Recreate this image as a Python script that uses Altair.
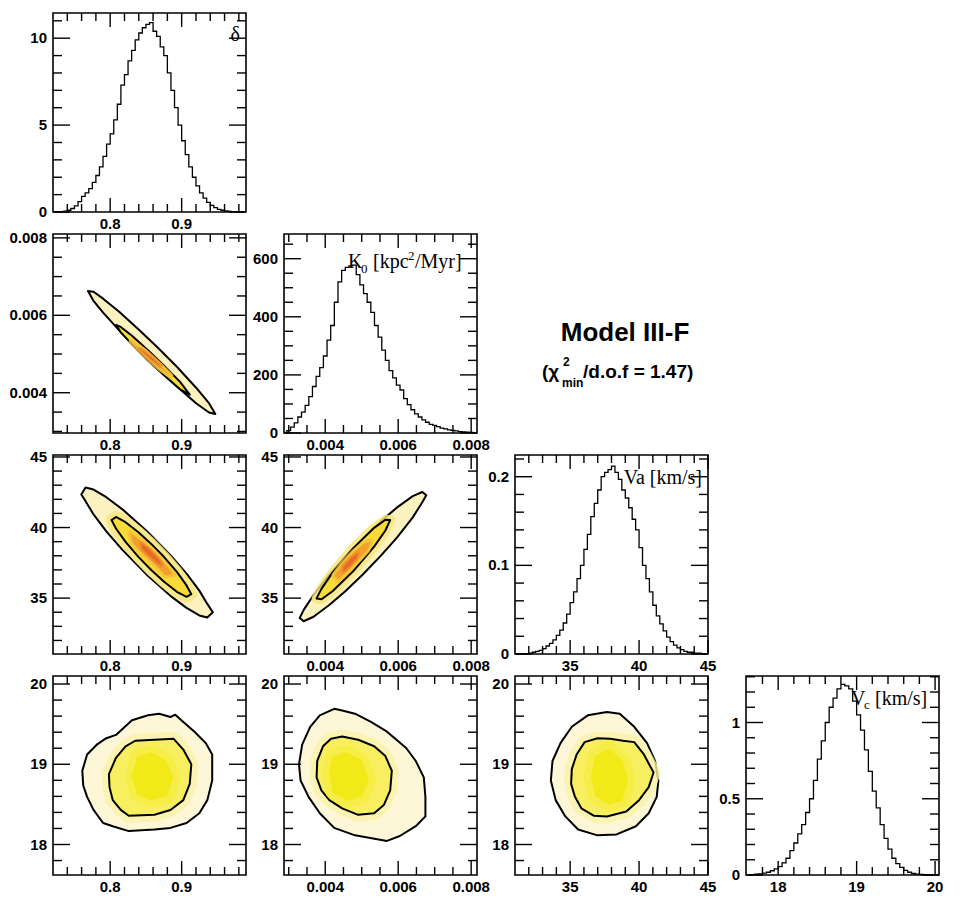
import altair as alt
import pandas as pd

# ------------------------------------------------------------------ data
# 1-D marginal histograms (bin start, bin width, bin contents)
DELTA_LO, DELTA_STEP = 0.72, 0.005
delta_counts = [0, 0, 0.02, 0.05, 0.1, 0.2, 0.35, 0.6, 0.9, 1.1,
                1.35, 1.7, 2.1, 2.6, 3.2, 3.9, 4.5, 5.3, 6.2, 7.3,
                7.9, 8.7, 9.3, 9.9, 10.3, 10.6, 10.8, 10.9, 10.4, 10.1,
                9.5, 9.0, 8.0, 7.0, 6.0, 5.0, 4.1, 3.3, 2.6, 2.0,
                1.5, 1.1, 0.8, 0.55, 0.38, 0.25, 0.15, 0.1, 0.06, 0.04,
                0.02, 0.01, 0, 0]

K0_LO, K0_STEP = 0.00285, 0.0001
k0_counts = [2, 8, 20, 35, 55, 72, 95, 125, 160, 195,
             225, 265, 320, 370, 450, 520, 560, 570, 575, 578,
             545, 510, 480, 450, 415, 370, 330, 285, 250, 215,
             190, 165, 148, 118, 98, 80, 66, 55, 45, 37,
             30, 26, 22, 17, 14, 11, 9, 7, 5, 4,
             3, 2, 1]

VA_LO, VA_STEP = 31.0, 0.25
va_counts = [0, 0, 0, 0.0005, 0.001, 0.002, 0.003, 0.004, 0.006, 0.009,
             0.012, 0.016, 0.021, 0.027, 0.035, 0.045, 0.058, 0.07, 0.085, 0.1,
             0.118, 0.135, 0.155, 0.17, 0.185, 0.2, 0.205, 0.208, 0.212, 0.205,
             0.197, 0.185, 0.176, 0.165, 0.152, 0.14, 0.12, 0.1, 0.085, 0.07,
             0.055, 0.043, 0.034, 0.026, 0.019, 0.014, 0.01, 0.007, 0.005, 0.003,
             0.002, 0.002, 0.001, 0.001, 0.0005, 0]

VC_LO, VC_STEP = 17.6, 0.05
vc_counts = [0, 0.002, 0.005, 0.008, 0.012, 0.018, 0.028, 0.04, 0.055, 0.08,
             0.11, 0.16, 0.21, 0.27, 0.33, 0.41, 0.5, 0.62, 0.76, 0.88,
             1.0, 1.1, 1.16, 1.22, 1.25, 1.24, 1.22, 1.14, 1.05, 0.95,
             0.82, 0.68, 0.55, 0.44, 0.33, 0.24, 0.17, 0.11, 0.075, 0.05,
             0.03, 0.018, 0.01, 0.006, 0.004, 0.002, 0.001, 0]

# 2-D contour outlines (68% inner / 95% outer) and colour-density cores
A_outer_x = [0.7690, 0.7767, 0.7901, 0.8126, 0.8395, 0.8664, 0.8933, 0.9202, 0.9382, 0.9471,
             0.9382, 0.9202, 0.8933, 0.8664, 0.8395, 0.8126, 0.7901, 0.7767]
A_outer_y = [0.00663, 0.00661, 0.00643, 0.00609, 0.00564, 0.00517, 0.00467, 0.00413, 0.00373, 0.00345,
             0.00349, 0.00373, 0.00416, 0.00461, 0.00510, 0.00561, 0.00607, 0.00637]
A_inner_x = [0.8081, 0.8148, 0.8305, 0.8529, 0.8754, 0.8978, 0.9113, 0.8978, 0.8754, 0.8529, 0.8305, 0.8148]
A_inner_y = [0.00575, 0.00570, 0.00547, 0.00510, 0.00470, 0.00428, 0.00395, 0.00409, 0.00445, 0.00483, 0.00525, 0.00556]
A_core_x = [0.830, 0.848, 0.866, 0.884, 0.868, 0.850]
A_core_y = [0.00532, 0.00507, 0.00477, 0.00445, 0.00466, 0.00496]
A_peak_x = [0.842, 0.857, 0.870, 0.858]
A_peak_y = [0.00513, 0.00492, 0.00470, 0.00486]

B_outer_x = [0.7596, 0.7655, 0.7767, 0.7946, 0.8171, 0.8507, 0.8843, 0.9068, 0.9247, 0.9359,
             0.9436, 0.9359, 0.9247, 0.9068, 0.8843, 0.8507, 0.8171, 0.7946, 0.7767, 0.7655]
B_outer_y = [42.34, 42.84, 42.69, 42.15, 41.29, 39.78, 38.04, 36.73, 35.53, 34.59,
             34.00, 33.62, 33.77, 34.31, 35.16, 36.68, 38.42, 39.73, 40.93, 41.87]
B_inner_x = [0.8018, 0.8081, 0.8215, 0.8395, 0.8574, 0.8754, 0.8933, 0.9068, 0.9135,
             0.9068, 0.8933, 0.8754, 0.8574, 0.8395, 0.8215, 0.8081]
B_inner_y = [40.53, 40.75, 40.38, 39.67, 38.84, 37.91, 36.86, 35.90, 35.28,
             35.09, 35.45, 36.16, 36.99, 37.92, 38.98, 39.93]
B_core_x = [0.828, 0.845, 0.862, 0.880, 0.888, 0.878, 0.862, 0.845, 0.832]
B_core_y = [39.6, 39.0, 38.2, 37.2, 36.7, 36.6, 37.4, 38.2, 38.9]
B_peak_x = [0.843, 0.856, 0.870, 0.872, 0.857, 0.845]
B_peak_y = [38.9, 38.4, 37.6, 37.3, 37.9, 38.5]

C_outer_x = [0.00330, 0.00341, 0.00368, 0.00411, 0.00455, 0.00503, 0.00552, 0.00596, 0.00640, 0.00666,
             0.00677, 0.00666, 0.00640, 0.00596, 0.00552, 0.00503, 0.00455, 0.00411, 0.00368, 0.00341]
C_outer_y = [33.59, 34.17, 35.22, 36.65, 37.94, 39.21, 40.43, 41.41, 42.23, 42.52,
             42.29, 41.79, 40.72, 39.27, 37.99, 36.67, 35.49, 34.51, 33.68, 33.36]
C_inner_x = [0.00376, 0.00390, 0.00420, 0.00477, 0.00534, 0.00565, 0.00578, 0.00565, 0.00534, 0.00477, 0.00420, 0.00390]
C_inner_y = [34.98, 35.67, 36.81, 38.54, 39.98, 40.55, 40.53, 39.79, 38.65, 36.92, 35.49, 34.92]
C_core_x = [0.00425, 0.00450, 0.00480, 0.00510, 0.00525, 0.00515, 0.00490, 0.00460, 0.00435]
C_core_y = [36.6, 37.5, 38.3, 38.9, 39.0, 38.4, 37.7, 36.9, 36.3]
C_peak_x = [0.00450, 0.00470, 0.00490, 0.00485, 0.00465, 0.00450]
C_peak_y = [37.2, 37.8, 38.2, 37.8, 37.2, 36.9]

D_outer_x = [0.8081, 0.8305, 0.8529, 0.8686, 0.8843, 0.8911, 0.9023, 0.9180, 0.9337, 0.9427,
             0.9427, 0.9359, 0.9247, 0.9068, 0.8843, 0.8619, 0.8260, 0.8036, 0.7901, 0.7767,
             0.7677, 0.7623, 0.7610, 0.7677, 0.7812, 0.7946]
D_outer_y = [19.366, 19.549, 19.610, 19.630, 19.589, 19.618, 19.528, 19.406, 19.264, 19.122,
             18.797, 18.553, 18.390, 18.268, 18.207, 18.187, 18.167, 18.228, 18.268, 18.431,
             18.594, 18.736, 18.919, 19.122, 19.244, 19.325]
D_inner_x = [0.8350, 0.8888, 0.9023, 0.9135, 0.9113, 0.9023, 0.8843, 0.8619, 0.8260, 0.8148,
             0.8036, 0.7991, 0.7982, 0.8081, 0.8215]
D_inner_y = [19.293, 19.317, 19.183, 19.000, 18.756, 18.553, 18.431, 18.370, 18.358, 18.431,
             18.553, 18.715, 18.878, 19.081, 19.224]
D_core_x = [0.838, 0.858, 0.878, 0.888, 0.880, 0.858, 0.838, 0.830]
D_core_y = [19.10, 19.15, 19.05, 18.85, 18.60, 18.55, 18.62, 18.85]

E_outer_x = [0.004246, 0.004465, 0.004816, 0.005254, 0.005693, 0.006219, 0.006482, 0.006702, 0.006746, 0.006746,
             0.006482, 0.006044, 0.005693, 0.004816, 0.004246, 0.003851, 0.003544, 0.003325, 0.003281, 0.003368,
             0.003588, 0.003851]
E_outer_y = [19.691, 19.671, 19.630, 19.528, 19.406, 19.203, 19.041, 18.837, 18.594, 18.350,
             18.228, 18.106, 18.045, 18.114, 18.207, 18.390, 18.594, 18.797, 19.000, 19.244,
             19.467, 19.610]
E_inner_x = [0.004465, 0.004903, 0.005342, 0.005649, 0.005825, 0.005781, 0.005605, 0.005342, 0.004903, 0.004465,
             0.004114, 0.003895, 0.003763, 0.003781, 0.003939, 0.004158]
E_inner_y = [19.345, 19.305, 19.224, 19.102, 18.919, 18.675, 18.492, 18.390, 18.370, 18.451,
             18.553, 18.675, 18.837, 19.041, 19.224, 19.317]
E_core_x = [0.0042, 0.0046, 0.0050, 0.0052, 0.0050, 0.0046, 0.0042, 0.0041]
E_core_y = [19.10, 19.15, 19.05, 18.80, 18.60, 18.55, 18.65, 18.90]

F_outer_x = [36.28, 37.67, 38.60, 39.65, 40.58, 41.16, 41.40, 41.28, 40.70, 39.77,
             38.37, 36.98, 35.58, 34.65, 33.95, 33.60, 33.72, 34.30, 35.12]
F_outer_y = [19.610, 19.650, 19.630, 19.467, 19.264, 19.041, 18.797, 18.594, 18.390, 18.228,
             18.126, 18.114, 18.187, 18.350, 18.553, 18.797, 19.041, 19.264, 19.467]
F_inner_x = [36.05, 36.98, 37.91, 38.84, 39.65, 40.35, 41.05, 40.70, 40.00, 39.07,
             37.67, 36.74, 35.81, 35.35, 35.07, 35.12, 35.47]
F_inner_y = [19.276, 19.325, 19.317, 19.293, 19.276, 19.122, 18.898, 18.715, 18.553, 18.411,
             18.350, 18.358, 18.451, 18.594, 18.756, 18.939, 19.122]
F_core_x = [36.8, 37.8, 38.8, 39.2, 38.8, 37.8, 36.8, 36.5]
F_core_y = [19.10, 19.20, 19.05, 18.80, 18.55, 18.50, 18.60, 18.85]

# axis domains, tick values and tick labels
delta_dom = [0.72, 0.99]
k0x_dom, k0y_dom = [0.00287, 0.00816], [0.00296, 0.0081]
vax_dom, vay_dom = [31.0, 45.0], [31.04, 45.14]
vcx_dom, vcy_dom = [17.59, 20.05], [17.62, 20.1]
h_delta_dom, h_k0_dom, h_va_dom, h_vc_dom = [0, 11.45], [0, 685], [0, 0.2245], [0, 1.305]

delta_ticks = ([0.8, 0.9], [0.74, 0.76, 0.78, 0.82, 0.84, 0.86, 0.88, 0.92, 0.94, 0.96, 0.98], ["0.8", "0.9"])
k0_ticks = ([0.004, 0.006, 0.008], [0.003, 0.0035, 0.0045, 0.005, 0.0055, 0.0065, 0.007, 0.0075],
            ["0.004", "0.006", "0.008"])
va_ticks = ([35, 40, 45], [32, 33, 34, 36, 37, 38, 39, 41, 42, 43, 44], ["35", "40", "45"])
vc_ticks = ([18, 19, 20], [17.8, 18.2, 18.4, 18.6, 18.8, 19.2, 19.4, 19.6, 19.8], ["18", "19", "20"])
h_delta_ticks = ([0, 5, 10], [1, 2, 3, 4, 6, 7, 8, 9, 11], ["0", "5", "10"])
h_k0_ticks = ([0, 200, 400, 600], [50, 100, 150, 250, 300, 350, 450, 500, 550, 650], ["0", "200", "400", "600"])
h_va_ticks = ([0, 0.1, 0.2], [0.02, 0.04, 0.06, 0.08, 0.12, 0.14, 0.16, 0.18, 0.22], ["0", "0.1", "0.2"])
h_vc_ticks = ([0, 0.5, 1], [0.1, 0.2, 0.3, 0.4, 0.6, 0.7, 0.8, 0.9, 1.1, 1.2, 1.3], ["0", "0.5", "1"])

TITLE = "Model III-F"
SUB_PARTS = ["(\u03c7", "2", "min", "/d.o.f = 1.47)"]
LBL_DELTA = "\u03b4"
LBL_K0 = ["K", "0", "[kpc", "2", "/Myr]"]
LBL_VA = "Va [km/s]"
LBL_VC = ["V", "c", "[km/s]"]

# ------------------------------------------------------------------ style
FONT = "Liberation Sans"
SERIF = "Liberation Serif"
W, H = 193, 199
XMAJ, XMIN, YMAJ, YMIN = 14, 8, 17, 9   # inward tick lengths in px
TICK_W = 1.4
LBL_SIZE = 15


def scl(d):
    return alt.Scale(domain=d, nice=False, zero=False)


class Frame:
    """Shared x/y scales of one panel."""

    def __init__(self, xd, yd, xt, yt):
        self.xd, self.yd, self.xt, self.yt = xd, yd, xt, yt

    def X(self, f):
        return alt.X(f, scale=scl(self.xd), axis=None)

    def Y(self, f):
        return alt.Y(f, scale=scl(self.yd), axis=None)


def tick_layers(fr):
    # inward ticks on all four sides (ROOT style), drawn as short two-point
    # line segments; the tick length in px is converted to data units
    (x0, x1), (y0, y1) = fr.xd, fr.yd
    ux, uy = (x1 - x0) / W, (y1 - y0) / H
    rows = []
    n = 0
    for vals, size in ((fr.xt[0], XMAJ), (fr.xt[1], XMIN)):
        for v in vals:
            rows += [(n, 0, v, y0), (n, 1, v, y0 + size * uy)]
            rows += [(n + 1, 0, v, y1), (n + 1, 1, v, y1 - size * uy)]
            n += 2
    for vals, size in ((fr.yt[0], YMAJ), (fr.yt[1], YMIN)):
        for v in vals:
            rows += [(n, 0, x0, v), (n, 1, x0 + size * ux, v)]
            rows += [(n + 1, 0, x1, v), (n + 1, 1, x1 - size * ux, v)]
            n += 2
    td = pd.DataFrame(rows, columns=["tid", "k", "tx", "ty"])
    layers = [alt.Chart(td).mark_line(color="black", strokeWidth=TICK_W, strokeCap="butt").encode(
        x=fr.X("tx:Q"), y=fr.Y("ty:Q"), detail="tid:N", order="k:Q")]
    # tick labels, placed through the panel scales
    txt = dict(font=FONT, fontSize=LBL_SIZE, fontWeight="bold", color="black")
    dx = pd.DataFrame({"v": fr.xt[0], "lab": fr.xt[2]})
    layers.append(alt.Chart(dx).mark_text(align="center", baseline="top", **txt).encode(
        x=fr.X("v:Q"), y=alt.value(H + 5), text="lab:N"))
    dy = pd.DataFrame({"v": fr.yt[0], "lab": fr.yt[2]})
    layers.append(alt.Chart(dy).mark_text(align="right", baseline="middle", **txt).encode(
        y=fr.Y("v:Q"), x=alt.value(-6), text="lab:N"))
    return layers


def text_layer(txt, x, y, size, font=SERIF, weight="normal", align="left"):
    return alt.Chart(pd.DataFrame({"t": [txt]})).mark_text(
        font=font, fontSize=size, fontWeight=weight, align=align, baseline="alphabetic",
        color="black").encode(text="t:N", x=alt.value(x), y=alt.value(y))


def hist_panel(lo, step, vals, fr, labels):
    df = pd.DataFrame({"x": [lo + (i + 0.5) * step for i in range(len(vals))], "y": vals})
    line = alt.Chart(df).mark_line(interpolate="step", color="black", strokeWidth=1.3).encode(
        x=fr.X("x:Q"), y=fr.Y("y:Q"))
    return alt.layer(line, *tick_layers(fr), *labels).properties(width=W, height=H)


def poly(xs, ys, fr, fill=None, stroke=None, sw=0, opacity=1.0):
    df = pd.DataFrame({"x": xs, "y": ys, "i": list(range(len(xs)))})
    mk = dict(interpolate="linear-closed", strokeJoin="round")
    if fill:
        mk.update(fill=fill, fillOpacity=opacity)
    else:
        mk.update(fillOpacity=0)
    if stroke:
        mk.update(stroke=stroke, strokeWidth=sw, strokeOpacity=opacity if not fill else 1)
    else:
        mk.update(strokeOpacity=0)
    return alt.Chart(df).mark_line(**mk).encode(x=fr.X("x:Q"), y=fr.Y("y:Q"), order="i:Q")


def contour_panel(polys, fr):
    layers = [poly(p[0], p[1], fr, **p[2]) for p in polys]
    return alt.layer(*layers, *tick_layers(fr)).properties(width=W, height=H)


def blank():
    return alt.Chart(pd.DataFrame({"v": [0]})).mark_point(opacity=0, size=1).encode(
        x=alt.value(W / 2), y=alt.value(H / 2)).properties(
        width=W, height=H, view=alt.ViewBackground(strokeOpacity=0))


def corr_polys(ox, oy, ix, iy, cx, cy, px, py, halo):
    out = [(ox, oy, dict(fill="#fbf2c0", stroke="black", sw=2))]
    if halo:
        out.append((ix, iy, dict(stroke="#f8e57e", sw=halo, opacity=0.8)))
    out += [
        (ix, iy, dict(fill="#f7db38", stroke="black", sw=2)),
        (cx, cy, dict(stroke="#f4c03a", sw=6, opacity=0.8)),
        (cx, cy, dict(fill="#f1a02c")),
        (px, py, dict(stroke="#ee8a2a", sw=4, opacity=0.8)),
        (px, py, dict(fill="#e8682a")),
    ]
    return out


def round_polys(ox, oy, ix, iy, cx, cy):
    return [
        (ox, oy, dict(fill="#fdf7d8", stroke="black", sw=2)),
        (ix, iy, dict(stroke="#faf1a8", sw=14, opacity=0.8)),
        (ix, iy, dict(fill="#f7ee60", stroke="black", sw=2)),
        (cx, cy, dict(stroke="#f5ec40", sw=14, opacity=0.8)),
        (cx, cy, dict(fill="#f2ea18")),
    ]


# ------------------------------------------------------------------ panels
p_delta = hist_panel(DELTA_LO, DELTA_STEP, delta_counts,
                     Frame(delta_dom, h_delta_dom, delta_ticks, h_delta_ticks),
                     [text_layer(LBL_DELTA, W - 6, 28, 20, align="right")])
p_k0 = hist_panel(K0_LO, K0_STEP, k0_counts,
                  Frame(k0x_dom, h_k0_dom, k0_ticks, h_k0_ticks),
                  [text_layer(LBL_K0[0], W - 129, 34, 20),
                   text_layer(LBL_K0[1], W - 116, 39, 13),
                   text_layer(LBL_K0[2], W - 104, 34, 20),
                   text_layer(LBL_K0[3], W - 69, 26, 13),
                   text_layer(LBL_K0[4], W - 62, 34, 20)])
p_va = hist_panel(VA_LO, VA_STEP, va_counts,
                  Frame(vax_dom, h_va_dom, va_ticks, h_va_ticks),
                  [text_layer(LBL_VA, W - 6, 29, 20, align="right")])
p_vc = hist_panel(VC_LO, VC_STEP, vc_counts,
                  Frame(vcx_dom, h_vc_dom, vc_ticks, h_vc_ticks),
                  [text_layer(LBL_VC[0], W - 88, 29, 20),
                   text_layer(LBL_VC[1], W - 75, 33, 13),
                   text_layer(LBL_VC[2], W - 64, 29, 20)])

p_A = contour_panel(corr_polys(A_outer_x, A_outer_y, A_inner_x, A_inner_y, A_core_x, A_core_y, A_peak_x, A_peak_y, 0),
                    Frame(delta_dom, k0y_dom, delta_ticks, k0_ticks))
p_B = contour_panel(corr_polys(B_outer_x, B_outer_y, B_inner_x, B_inner_y, B_core_x, B_core_y, B_peak_x, B_peak_y, 12),
                    Frame(delta_dom, vay_dom, delta_ticks, va_ticks))
p_C = contour_panel(corr_polys(C_outer_x, C_outer_y, C_inner_x, C_inner_y, C_core_x, C_core_y, C_peak_x, C_peak_y, 10),
                    Frame(k0x_dom, vay_dom, k0_ticks, va_ticks))
p_D = contour_panel(round_polys(D_outer_x, D_outer_y, D_inner_x, D_inner_y, D_core_x, D_core_y),
                    Frame(delta_dom, vcy_dom, delta_ticks, vc_ticks))
p_E = contour_panel(round_polys(E_outer_x, E_outer_y, E_inner_x, E_inner_y, E_core_x, E_core_y),
                    Frame(k0x_dom, vcy_dom, k0_ticks, vc_ticks))
p_F = contour_panel(round_polys(F_outer_x, F_outer_y, F_inner_x, F_inner_y, F_core_x, F_core_y),
                    Frame(vax_dom, vcy_dom, va_ticks, vc_ticks))

p_title = alt.layer(
    text_layer(TITLE, 110, 107, 26, font=FONT, weight="bold", align="center"),
    text_layer(SUB_PARTS[0], 27, 144, 19, font=FONT, weight="bold"),
    text_layer(SUB_PARTS[1], 48, 132, 12, font=FONT, weight="bold"),
    text_layer(SUB_PARTS[2], 47, 153, 12, font=FONT, weight="bold"),
    text_layer(SUB_PARTS[3], 68, 144, 19, font=FONT, weight="bold"),
).properties(width=W, height=H, view=alt.ViewBackground(strokeOpacity=0))

cells = [p_delta, blank(), blank(), blank(),
         p_A, p_k0, p_title, blank(),
         p_B, p_C, p_va, blank(),
         p_D, p_E, p_F, p_vc]

chart = alt.concat(*cells, columns=4, spacing={"row": 22, "column": 38}, bounds="flush").properties(
    padding={"left": 0, "top": 1, "right": 0, "bottom": 0}, background="white"
).configure_view(stroke="black", strokeWidth=1.6)

chart.save("out.html", embed_options={"renderer": "svg", "actions": False})
